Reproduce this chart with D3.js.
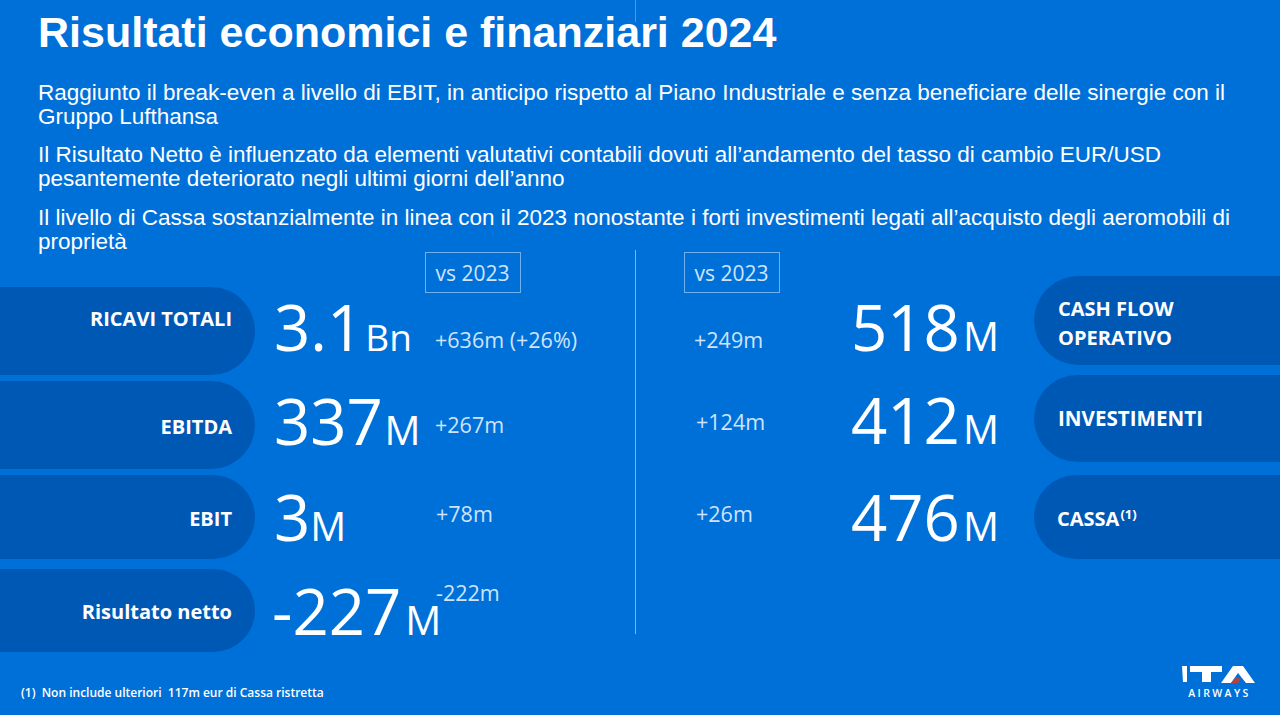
<!DOCTYPE html>
<html><head><meta charset="utf-8">
<script src="https://cdn.jsdelivr.net/npm/d3@7/dist/d3.min.js"></script>
<style>html,body{margin:0;padding:0;background:#0070d9;overflow:hidden}svg{display:block}</style>
</head><body><svg id="c" width="1280" height="715"></svg>
<script>
const title = "Risultati economici e finanziari 2024";
const bodyLines = [
 "Raggiunto il break-even a livello di EBIT, in anticipo rispetto al Piano Industriale e senza beneficiare delle sinergie con il",
 "Gruppo Lufthansa",
 "Il Risultato Netto è influenzato da elementi valutativi contabili dovuti all’andamento del tasso di cambio EUR/USD",
 "pesantemente deteriorato negli ultimi giorni dell’anno",
 "Il livello di Cassa sostanzialmente in linea con il 2023 nonostante i forti investimenti legati all’acquisto degli aeromobili di",
 "proprietà"];
const leftLabels = ["RICAVI TOTALI","EBITDA","EBIT","Risultato netto"];
const leftValues = ["3.1","337","3","-227"];
const leftUnits = ["Bn","M","M","M"];
const leftDeltas = ["+636m (+26%)","+267m","+78m","-222m"];
const rightLabels = [["CASH FLOW","OPERATIVO"],["INVESTIMENTI"],["CASSA"]];
const rightValues = ["518","412","476"];
const rightUnits = ["M","M","M"];
const rightDeltas = ["+249m","+124m","+26m"];
const compare = "vs 2023";
const footnote = "(1)  Non include ulteriori  117m eur di Cassa ristretta";

// layout
const F = "'Open Sans','Noto Sans',sans-serif", A = "'Liberation Sans',Arial,sans-serif";
const BODY_Y = [100,124,162,186,225,249];
const L_PILL = [[287,375],[381,469],[475,559],[569,652]];
const R_PILL = [[276,365],[375,462],[475,559]];
const L_BASE = [351,445,541,635], R_BASE = [351,444,541];
const L_DELTA = [348,433,522,601], R_DELTA = [348,430,522];
const L_DX = [435,435,436,436], R_DX = [694,696,696];
const L_LAB = [326,434,526,619];
const L_UX = [2,1.5,0,4];
const L_USIZE = [37,40,40,40];
const svg = d3.select("#c");
const WHITE="#ffffff", SOFT="#cfe4fb", PILL="#0058b5";
const BIG=63.5, UNIT=40, DELTA=21.5, LAB=20;

svg.append("rect").attr("width",1280).attr("height",715).attr("fill","#0070d9");
function t(x,y,s,size,o={}){return svg.append("text").attr("x",x).attr("y",y).text(s)
  .attr("font-family",o.f||F).attr("font-size",size).attr("font-weight",o.w||400)
  .attr("fill",o.c||WHITE).attr("text-anchor",o.a||"start").style("white-space","pre");}

t(38,47,title,43,{f:A,w:700});
svg.selectAll("text.b").data(bodyLines).join("text").attr("class","b")
  .attr("x",38).attr("y",(d,i)=>BODY_Y[i]).text(d=>d)
  .attr("font-family",A).attr("font-size",22.5).attr("fill",WHITE);

svg.append("line").attr("x1",635.5).attr("x2",635.5).attr("y1",250).attr("y2",634).attr("stroke","#7db4ea").attr("stroke-width",1);
svg.append("line").attr("x1",635.5).attr("x2",635.5).attr("y1",0).attr("y2",22).attr("stroke","#4d9ae4").attr("stroke-width",1);

[[425,compare],[684,compare]].forEach(([x,s])=>{
  svg.append("rect").attr("x",x+.5).attr("y",252.5).attr("width",95).attr("height",40).attr("fill","none").attr("stroke","#6fb0ee");
  t(x+47.5,281,s,21,{a:"middle",c:SOFT});
});

// pills
svg.selectAll("path.l").data(L_PILL).join("path").attr("class","l").attr("fill",PILL)
  .attr("d",([a,b])=>{const r=(b-a)/2;return `M0 ${a}H${255-r}A${r} ${r} 0 0 1 ${255-r} ${b}H0Z`;});
svg.selectAll("path.r").data(R_PILL).join("path").attr("class","r").attr("fill",PILL)
  .attr("d",([a,b])=>{const r=(b-a)/2;return `M1280 ${a}H${1034+r}A${r} ${r} 0 0 0 ${1034+r} ${b}H1280Z`;});

// left column
leftLabels.forEach((s,i)=>t(232,L_LAB[i],s,LAB,{a:"end",w:700}));
leftValues.forEach((v,i)=>{
  const neg=v.startsWith("-");
  const n=t(neg?272:274,L_BASE[i],v,BIG);
  const x=n.node().getComputedTextLength()+(neg?272:274);
  t(x+L_UX[i],L_BASE[i],leftUnits[i],L_USIZE[i]);
  t(L_DX[i],L_DELTA[i],leftDeltas[i],DELTA,{c:SOFT});
});

// right column
rightValues.forEach((v,i)=>{
  const n=t(851,R_BASE[i],v,BIG);
  const x=n.node().getComputedTextLength()+851;
  t(x+3,R_BASE[i],rightUnits[i],UNIT);
  t(R_DX[i],R_DELTA[i],rightDeltas[i],DELTA,{c:SOFT});
});
t(1058,316,rightLabels[0][0],LAB,{w:700});
t(1058,345,rightLabels[0][1],LAB,{w:700});
t(1058,426,rightLabels[1][0],20.6,{w:700});
const cs=t(1057,526,rightLabels[2][0],LAB,{w:700});
t(1057+cs.node().getComputedTextLength()+1,519,"(1)",13,{w:700});

t(21,697,footnote,12,{w:600});

// logo
const g=svg.append("g");
g.append("path").attr("fill",WHITE).attr("d","M1182 666H1187V682H1183ZM1190 666H1222V672H1211V682H1202V672H1190ZM1233 666H1243L1255 683H1246L1238 673L1231 683H1221Z");
g.append("path").attr("fill","#b5413a").attr("d","M1231 683L1236 677L1241 679L1238 683Z");
t(1219.5,697,"AIRWAYS",10.5,{a:"middle",w:600}).attr("letter-spacing",2.4);
</script></body></html>
